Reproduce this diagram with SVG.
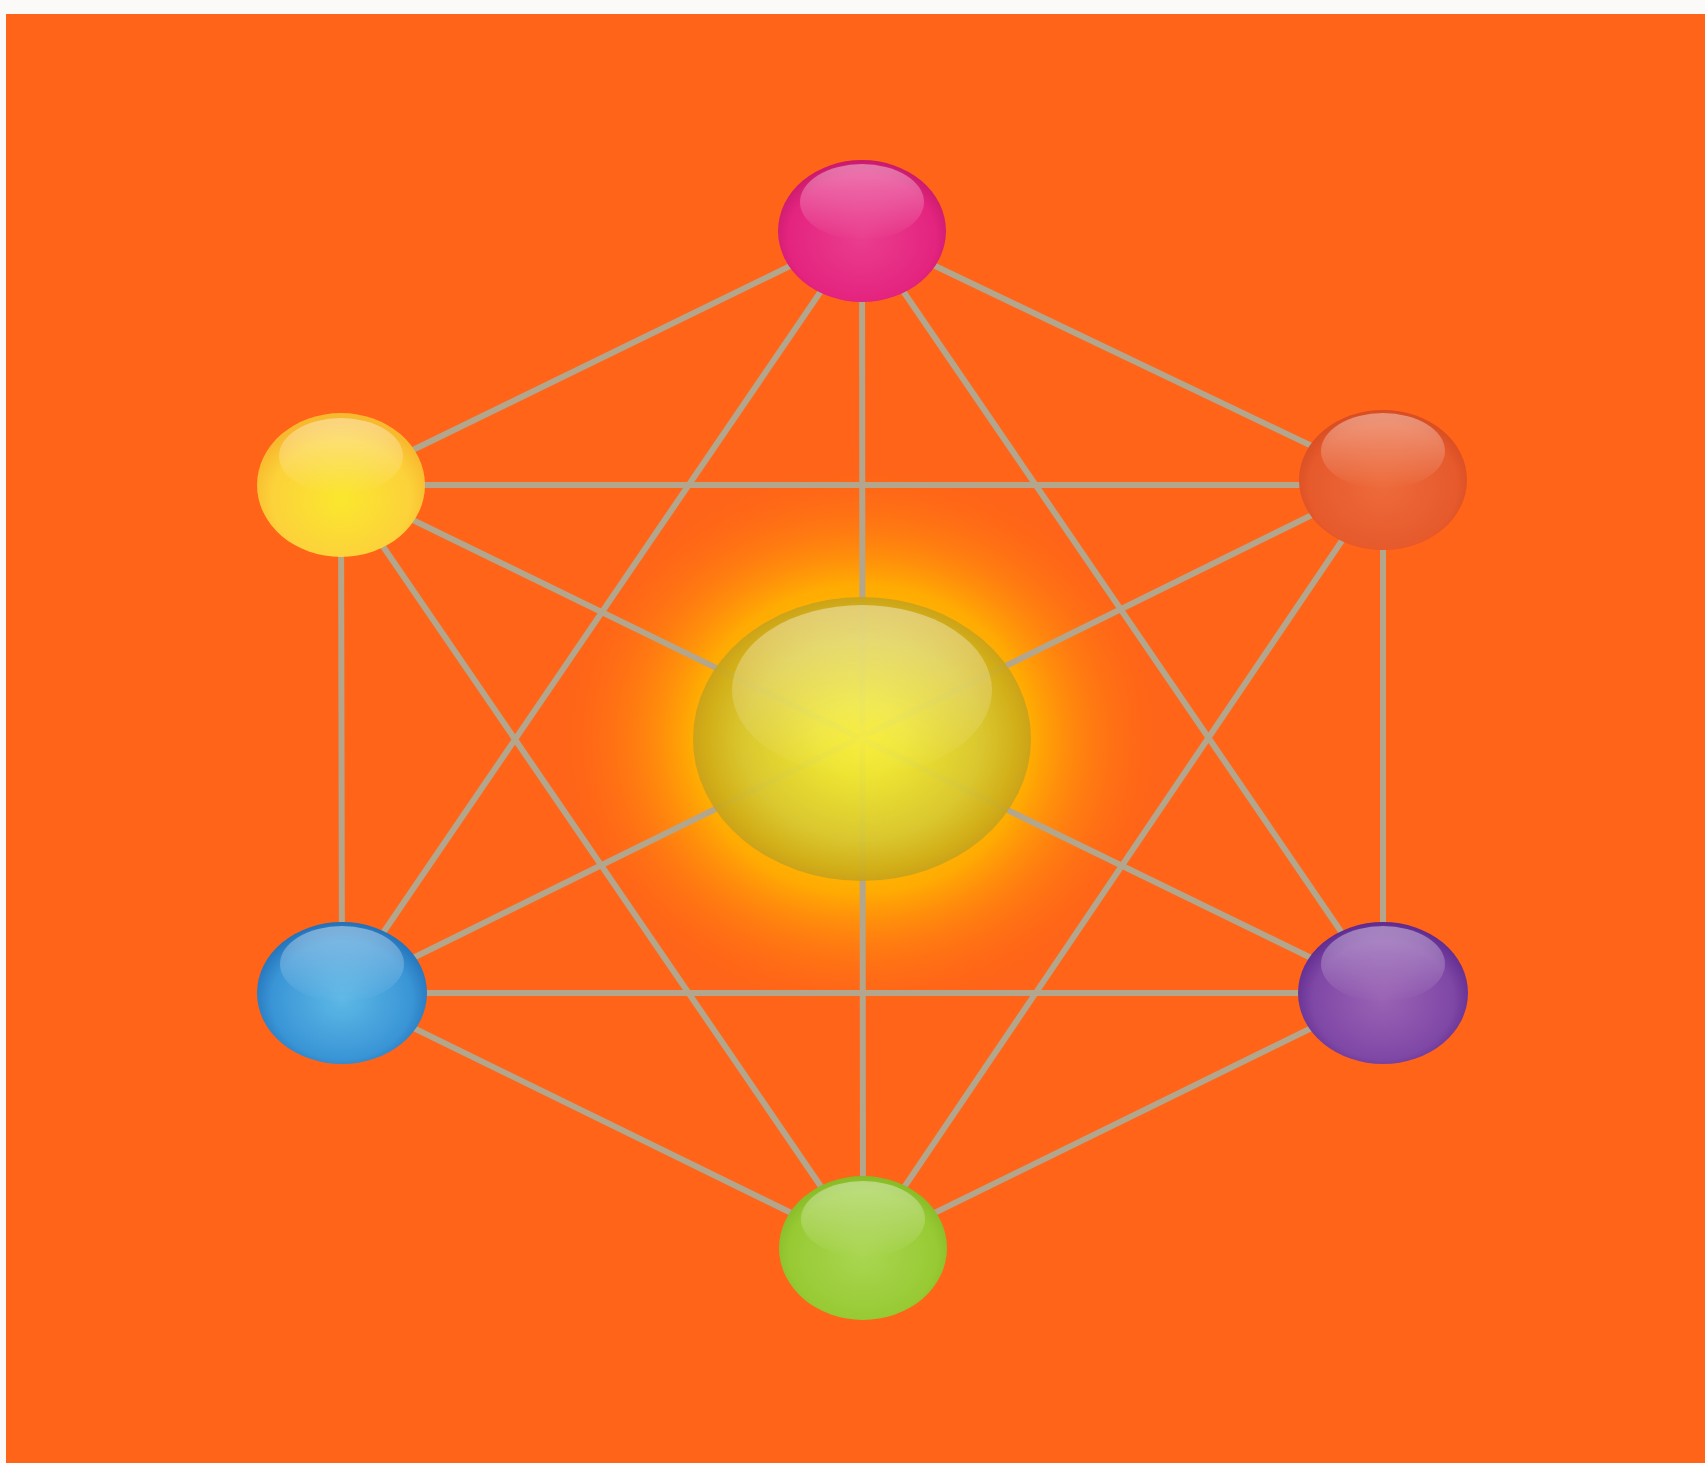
<svg xmlns="http://www.w3.org/2000/svg" width="1705" height="1463" viewBox="0 0 1705 1463">
<defs>
<style>
.edge{stroke:#b3a68c;stroke-width:6;stroke-linecap:round;fill:none}
.hl{fill:url(#hl)}
</style>
<linearGradient id="hl" x1="0" y1="0" x2="0" y2="1">
<stop offset="0" stop-color="#fff" stop-opacity="0.4"/>
<stop offset="1" stop-color="#fff" stop-opacity="0"/>
</linearGradient>
<radialGradient id="gPink" cx="0.5" cy="0.55" r="0.55">
<stop offset="0" stop-color="#ea3d8e"/><stop offset="0.8" stop-color="#e4247f"/><stop offset="1" stop-color="#c81a6c"/>
</radialGradient>
<radialGradient id="gYellow" cx="0.5" cy="0.6" r="0.55">
<stop offset="0" stop-color="#fbe72e"/><stop offset="0.75" stop-color="#fcd23a"/><stop offset="1" stop-color="#f8b92e"/>
</radialGradient>
<radialGradient id="gOrange" cx="0.5" cy="0.55" r="0.55">
<stop offset="0" stop-color="#ee6a3a"/><stop offset="0.8" stop-color="#e65a2c"/><stop offset="1" stop-color="#d74c22"/>
</radialGradient>
<radialGradient id="gBlue" cx="0.5" cy="0.55" r="0.55">
<stop offset="0" stop-color="#5db8e6"/><stop offset="0.75" stop-color="#3a95d6"/><stop offset="1" stop-color="#2270b8"/>
</radialGradient>
<radialGradient id="gPurple" cx="0.5" cy="0.55" r="0.55">
<stop offset="0" stop-color="#9a62b4"/><stop offset="0.75" stop-color="#8048a6"/><stop offset="1" stop-color="#5e2a8e"/>
</radialGradient>
<radialGradient id="gGreen" cx="0.5" cy="0.55" r="0.55">
<stop offset="0" stop-color="#a9d651"/><stop offset="0.8" stop-color="#98ca34"/><stop offset="1" stop-color="#86ba26"/>
</radialGradient>
<radialGradient id="gGlow" cx="0.5" cy="0.5" r="0.5">
<stop offset="0" stop-color="#ffe000" stop-opacity="1"/>
<stop offset="0.55" stop-color="#ffb300" stop-opacity="0.9"/>
<stop offset="1" stop-color="#ff6418" stop-opacity="0"/>
</radialGradient>
<radialGradient id="gCenter" cx="0.5" cy="0.5" r="0.5">
<stop offset="0" stop-color="#f6ec30"/><stop offset="0.25" stop-color="#ede636"/><stop offset="0.7" stop-color="#d8c832"/><stop offset="0.92" stop-color="#cfae1a"/><stop offset="1" stop-color="#c9a21a"/>
</radialGradient>
</defs>
<rect x="0" y="0" width="1705" height="1463" fill="#fcf9f9"/>
<rect x="6" y="14" width="1699" height="1449" fill="#ff6418"/>
<ellipse cx="862" cy="739" rx="310" ry="280" fill="url(#gGlow)"/>
<g id="connectors">
<line class="edge" x1="862" y1="231" x2="341" y2="485"/>
<line class="edge" x1="862" y1="231" x2="1383" y2="480"/>
<line class="edge" x1="862" y1="231" x2="342" y2="993"/>
<line class="edge" x1="862" y1="231" x2="1383" y2="993"/>
<line class="edge" x1="862" y1="231" x2="863" y2="1248"/>
<line class="edge" x1="341" y1="485" x2="1383" y2="485"/>
<line class="edge" x1="341" y1="485" x2="342" y2="993"/>
<line class="edge" x1="341" y1="485" x2="1383" y2="993"/>
<line class="edge" x1="341" y1="485" x2="863" y2="1248"/>
<line class="edge" x1="1383" y1="480" x2="342" y2="993"/>
<line class="edge" x1="1383" y1="480" x2="1383" y2="993"/>
<line class="edge" x1="1383" y1="480" x2="863" y2="1248"/>
<line class="edge" x1="342" y1="993" x2="1383" y2="993"/>
<line class="edge" x1="342" y1="993" x2="863" y2="1248"/>
<line class="edge" x1="1383" y1="993" x2="863" y2="1248"/>
</g>
<g id="center">
<ellipse cx="862" cy="739" rx="169" ry="142" fill="url(#gCenter)" opacity="0.94"/>
<ellipse cx="862" cy="690" rx="130" ry="85" class="hl"/>
</g>
<g id="node-top">
<ellipse cx="862" cy="231" rx="84" ry="71" fill="url(#gPink)"/>
<ellipse cx="862" cy="202" rx="62" ry="38" class="hl"/>
</g>
<g id="node-upper-left">
<ellipse cx="341" cy="485" rx="84" ry="72" fill="url(#gYellow)"/>
<ellipse cx="341" cy="456" rx="62" ry="38" class="hl"/>
</g>
<g id="node-upper-right">
<ellipse cx="1383" cy="480" rx="84" ry="70" fill="url(#gOrange)"/>
<ellipse cx="1383" cy="451" rx="62" ry="38" class="hl"/>
</g>
<g id="node-lower-left">
<ellipse cx="342" cy="993" rx="85" ry="71" fill="url(#gBlue)"/>
<ellipse cx="342" cy="964" rx="62" ry="38" class="hl"/>
</g>
<g id="node-lower-right">
<ellipse cx="1383" cy="993" rx="85" ry="71" fill="url(#gPurple)"/>
<ellipse cx="1383" cy="964" rx="62" ry="38" class="hl"/>
</g>
<g id="node-bottom">
<ellipse cx="863" cy="1248" rx="84" ry="72" fill="url(#gGreen)"/>
<ellipse cx="863" cy="1219" rx="62" ry="38" class="hl"/>
</g>
</svg>
